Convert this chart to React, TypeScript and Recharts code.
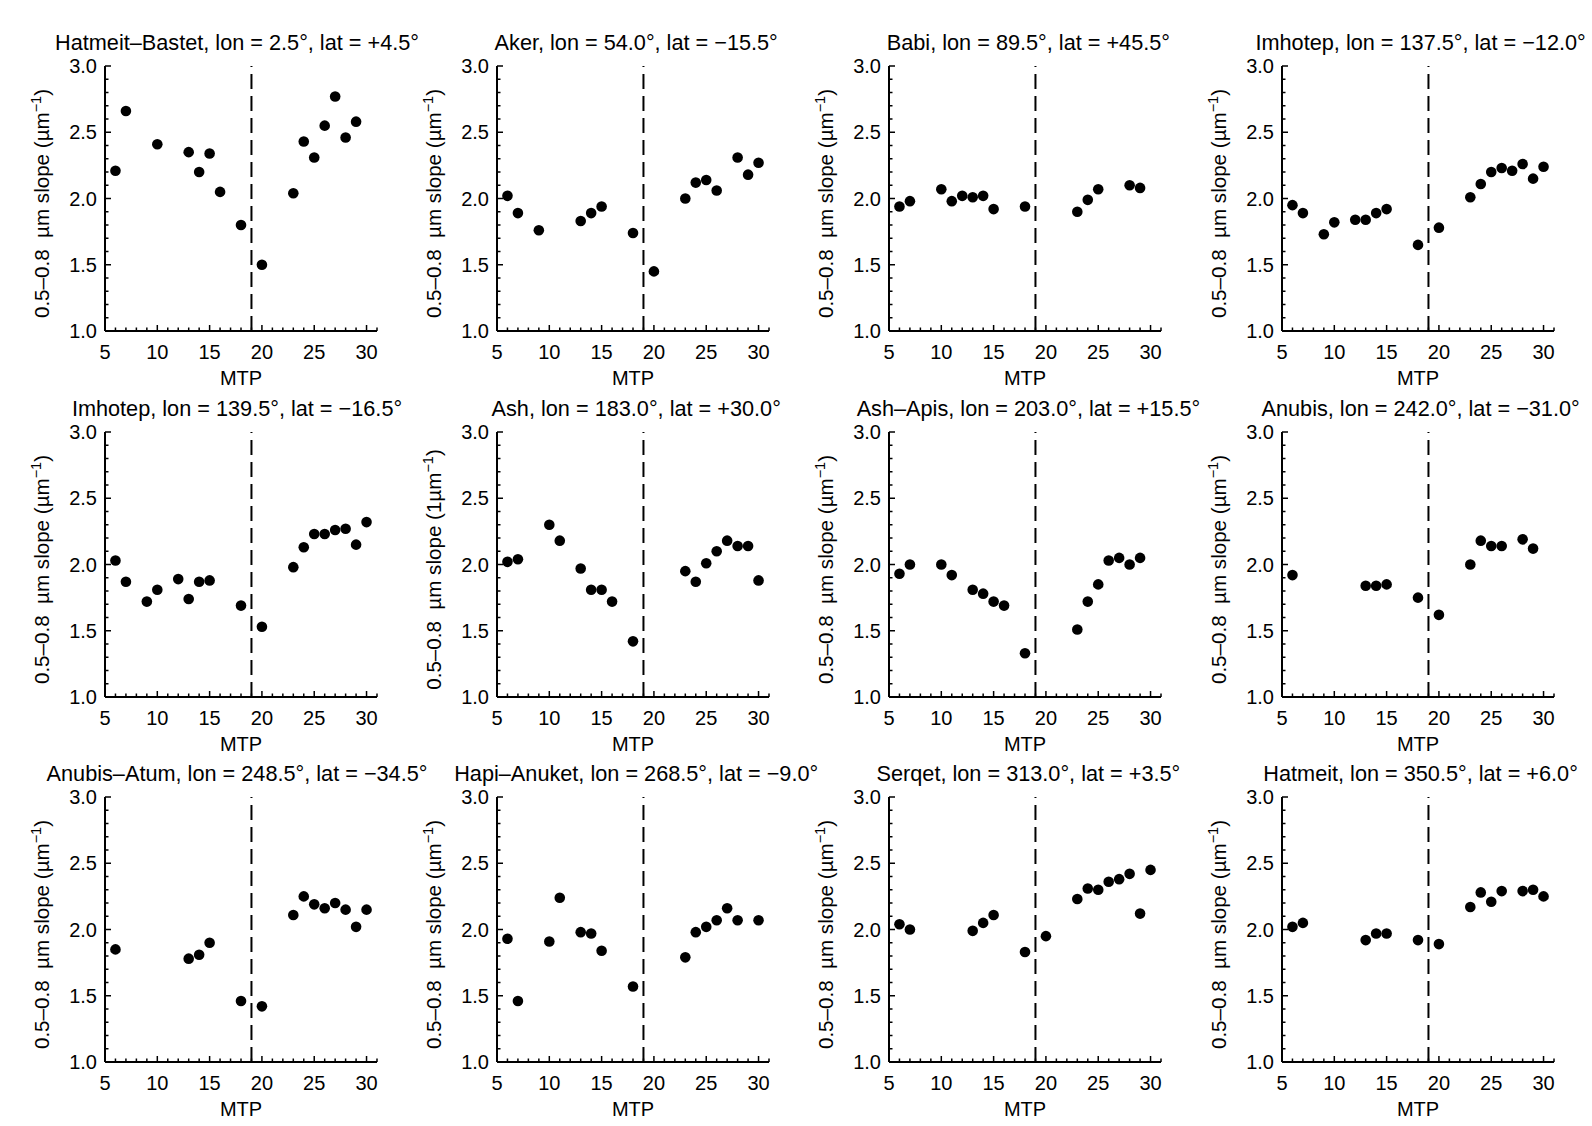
import React from 'react';
import { ScatterChart, Scatter, XAxis, YAxis, ReferenceLine } from 'recharts';

// ---------- data ----------
const HATMEIT_BASTET_MTP = [6, 7, 10, 13, 14, 15, 16, 18, 20, 23, 24, 25, 26, 27, 28, 29];
const HATMEIT_BASTET_SLOPE = [2.21, 2.66, 2.41, 2.35, 2.2, 2.34, 2.05, 1.8, 1.5, 2.04, 2.43, 2.31, 2.55, 2.77, 2.46, 2.58];

const AKER_MTP = [6, 7, 9, 13, 14, 15, 18, 20, 23, 24, 25, 26, 28, 29, 30];
const AKER_SLOPE = [2.02, 1.89, 1.76, 1.83, 1.89, 1.94, 1.74, 1.45, 2.0, 2.12, 2.14, 2.06, 2.31, 2.18, 2.27];

const BABI_MTP = [6, 7, 10, 11, 12, 13, 14, 15, 18, 23, 24, 25, 28, 29];
const BABI_SLOPE = [1.94, 1.98, 2.07, 1.98, 2.02, 2.01, 2.02, 1.92, 1.94, 1.9, 1.99, 2.07, 2.1, 2.08];

const IMHOTEP_A_MTP = [6, 7, 9, 10, 12, 13, 14, 15, 18, 20, 23, 24, 25, 26, 27, 28, 29, 30];
const IMHOTEP_A_SLOPE = [1.95, 1.89, 1.73, 1.82, 1.84, 1.84, 1.89, 1.92, 1.65, 1.78, 2.01, 2.11, 2.2, 2.23, 2.21, 2.26, 2.15, 2.24];

const IMHOTEP_B_MTP = [6, 7, 9, 10, 12, 13, 14, 15, 18, 20, 23, 24, 25, 26, 27, 28, 29, 30];
const IMHOTEP_B_SLOPE = [2.03, 1.87, 1.72, 1.81, 1.89, 1.74, 1.87, 1.88, 1.69, 1.53, 1.98, 2.13, 2.23, 2.23, 2.26, 2.27, 2.15, 2.32];

const ASH_MTP = [6, 7, 10, 11, 13, 14, 15, 16, 18, 23, 24, 25, 26, 27, 28, 29, 30];
const ASH_SLOPE = [2.02, 2.04, 2.3, 2.18, 1.97, 1.81, 1.81, 1.72, 1.42, 1.95, 1.87, 2.01, 2.1, 2.18, 2.14, 2.14, 1.88];

const ASH_APIS_MTP = [6, 7, 10, 11, 13, 14, 15, 16, 18, 23, 24, 25, 26, 27, 28, 29];
const ASH_APIS_SLOPE = [1.93, 2.0, 2.0, 1.92, 1.81, 1.78, 1.72, 1.69, 1.33, 1.51, 1.72, 1.85, 2.03, 2.05, 2.0, 2.05];

const ANUBIS_MTP = [6, 13, 14, 15, 18, 20, 23, 24, 25, 26, 28, 29];
const ANUBIS_SLOPE = [1.92, 1.84, 1.84, 1.85, 1.75, 1.62, 2.0, 2.18, 2.14, 2.14, 2.19, 2.12];

const ANUBIS_ATUM_MTP = [6, 13, 14, 15, 18, 20, 23, 24, 25, 26, 27, 28, 29, 30];
const ANUBIS_ATUM_SLOPE = [1.85, 1.78, 1.81, 1.9, 1.46, 1.42, 2.11, 2.25, 2.19, 2.16, 2.2, 2.15, 2.02, 2.15];

const HAPI_ANUKET_MTP = [6, 7, 10, 11, 13, 14, 15, 18, 23, 24, 25, 26, 27, 28, 30];
const HAPI_ANUKET_SLOPE = [1.93, 1.46, 1.91, 2.24, 1.98, 1.97, 1.84, 1.57, 1.79, 1.98, 2.02, 2.07, 2.16, 2.07, 2.07];

const SERQET_MTP = [6, 7, 13, 14, 15, 18, 20, 23, 24, 25, 26, 27, 28, 29, 30];
const SERQET_SLOPE = [2.04, 2.0, 1.99, 2.05, 2.11, 1.83, 1.95, 2.23, 2.31, 2.3, 2.36, 2.38, 2.42, 2.12, 2.45];

const HATMEIT_MTP = [6, 7, 13, 14, 15, 18, 20, 23, 24, 25, 26, 28, 29, 30];
const HATMEIT_SLOPE = [2.02, 2.05, 1.92, 1.97, 1.97, 1.92, 1.89, 2.17, 2.28, 2.21, 2.29, 2.29, 2.3, 2.25];

const TITLES = [
  'Hatmeit\u2013Bastet, lon = 2.5°, lat = +4.5°',
  'Aker, lon = 54.0°, lat = \u221215.5°',
  'Babi, lon = 89.5°, lat = +45.5°',
  'Imhotep, lon = 137.5°, lat = \u221212.0°',
  'Imhotep, lon = 139.5°, lat = \u221216.5°',
  'Ash, lon = 183.0°, lat = +30.0°',
  'Ash\u2013Apis, lon = 203.0°, lat = +15.5°',
  'Anubis, lon = 242.0°, lat = \u221231.0°',
  'Anubis\u2013Atum, lon = 248.5°, lat = \u221234.5°',
  'Hapi\u2013Anuket, lon = 268.5°, lat = \u22129.0°',
  'Serqet, lon = 313.0°, lat = +3.5°',
  'Hatmeit, lon = 350.5°, lat = +6.0°',
];

const X_TICKS = [5, 6, 7, 8, 9, 10, 11, 12, 13, 14, 15, 16, 17, 18, 19, 20, 21, 22, 23, 24, 25, 26, 27, 28, 29, 30, 31];
const X_LABELS = [5, 10, 15, 20, 25, 30];
const Y_TICKS = [1.0, 1.1, 1.2, 1.3, 1.4, 1.5, 1.6, 1.7, 1.8, 1.9, 2.0, 2.1, 2.2, 2.3, 2.4, 2.5, 2.6, 2.7, 2.8, 2.9, 3.0];
const Y_LABELS = [1.0, 1.5, 2.0, 2.5, 3.0];
const DIVIDE_MTP = 19;

const Y_UNIT_PREFIX = ['(', '(', '(', '(', '(', '(1', '(', '(', '(', '(', '(', '('];

const SERIES = [
  [HATMEIT_BASTET_MTP, HATMEIT_BASTET_SLOPE],
  [AKER_MTP, AKER_SLOPE],
  [BABI_MTP, BABI_SLOPE],
  [IMHOTEP_A_MTP, IMHOTEP_A_SLOPE],
  [IMHOTEP_B_MTP, IMHOTEP_B_SLOPE],
  [ASH_MTP, ASH_SLOPE],
  [ASH_APIS_MTP, ASH_APIS_SLOPE],
  [ANUBIS_MTP, ANUBIS_SLOPE],
  [ANUBIS_ATUM_MTP, ANUBIS_ATUM_SLOPE],
  [HAPI_ANUKET_MTP, HAPI_ANUKET_SLOPE],
  [SERQET_MTP, SERQET_SLOPE],
  [HATMEIT_MTP, HATMEIT_SLOPE],
];

// ---------- layout ----------
const FONT = "'Liberation Sans', Arial, Helvetica, sans-serif";
const COL_X = [105, 497.2, 889.4, 1281.6]; // plot-area left edges
const ROW_Y = [66, 431.8, 797.3]; // plot-area top edges
const TITLE_SHIFT = [-7, 0, 0, 0];
const PLOT_W = 272;
const PLOT_H = 265;
const Y_AXIS_W = 100;
const M_TOP = 32;
const X_AXIS_H = 64;
const M_RIGHT = 48;
const CHART_W = Y_AXIS_W + PLOT_W + M_RIGHT;
const CHART_H = M_TOP + PLOT_H + X_AXIS_H;

const isMajorY = (v: number) => Y_LABELS.some((m) => Math.abs(m - v) < 1e-6);

const YTick = (props: any) => {
  const { x, y, payload } = props;
  const v = payload.value as number;
  const major = isMajorY(v);
  return (
    <g>
      <line x1={x} x2={x + (major ? 6 : 3.5)} y1={y} y2={y} stroke="#000" strokeWidth={1.5} />
      {major && (
        <text x={x - 8} y={y} dy="0.36em" textAnchor="end" fontSize={20} fontFamily={FONT} fill="#000">
          {v.toFixed(1)}
        </text>
      )}
    </g>
  );
};

const XTick = (props: any) => {
  const { x, y, payload } = props;
  const v = payload.value as number;
  const major = X_LABELS.includes(v);
  return (
    <g>
      <line x1={x} x2={x} y1={y} y2={y - (major ? 6 : 3.5)} stroke="#000" strokeWidth={1.5} />
      {major && (
        <text x={x} y={y + 28} textAnchor="middle" fontSize={20} fontFamily={FONT} fill="#000">
          {v}
        </text>
      )}
    </g>
  );
};

const makeYLabel = (prefix: string) => (props: any) => {
  const vb = props.viewBox || { x: 0, y: M_TOP, width: Y_AXIS_W, height: PLOT_H };
  const cx = vb.x + vb.width - 56;
  const cy = vb.y + vb.height / 2 + 5;
  return (
    <text
      x={cx}
      y={cy}
      transform={`rotate(-90, ${cx}, ${cy})`}
      textAnchor="middle"
      fontSize={20.6}
      fontFamily={FONT}
      fill="#000"
      style={{ whiteSpace: 'pre' }}
    >
      {'0.5\u20130.8\u00a0 \u00b5m slope ' + prefix + '\u00b5m'}
      <tspan dy={-8} fontSize={14.5}>{'\u22121'}</tspan>
      <tspan dy={8}>)</tspan>
    </text>
  );
};

const XLabel = (props: any) => {
  const vb = props.viewBox || { x: Y_AXIS_W, y: M_TOP + PLOT_H, width: PLOT_W, height: X_AXIS_H };
  return (
    <text x={vb.x + vb.width / 2} y={vb.y + 54} textAnchor="middle" fontSize={20} fontFamily={FONT} fill="#000">
      MTP
    </text>
  );
};

const Dot = (props: any) => <circle cx={props.cx} cy={props.cy} r={5.3} fill="#000" />;

const Panel = ({ index }: { index: number }) => {
  const col = index % 4;
  const row = Math.floor(index / 4);
  const plotLeft = COL_X[col];
  const plotTop = ROW_Y[row];
  const [mtp, slope] = SERIES[index];
  const data = mtp.map((m, i) => ({ mtp: m, slope: slope[i] }));
  return (
    <>
      <div
        style={{
          position: 'absolute',
          left: plotLeft + PLOT_W / 2 + 3 + TITLE_SHIFT[col] - 250,
          top: plotTop - 23 - 12,
          width: 500,
          lineHeight: '24px',
          textAlign: 'center',
          fontSize: 21.7,
          fontFamily: FONT,
          color: '#000',
          whiteSpace: 'nowrap',
        }}
      >
        {TITLES[index]}
      </div>
      <div style={{ position: 'absolute', left: plotLeft - Y_AXIS_W, top: plotTop - M_TOP }}>
        <ScatterChart width={CHART_W} height={CHART_H} margin={{ top: M_TOP, right: M_RIGHT, bottom: 0, left: 0 }}>
          <XAxis
            type="number"
            dataKey="mtp"
            domain={[5, 31]}
            ticks={X_TICKS}
            interval={0}
            tickSize={0}
            tickMargin={0}
            tickLine={false}
            height={X_AXIS_H}
            axisLine={{ stroke: '#000', strokeWidth: 2 }}
            tick={<XTick />}
            label={{ content: XLabel }}
            allowDataOverflow
          />
          <YAxis
            type="number"
            dataKey="slope"
            domain={[1, 3]}
            ticks={Y_TICKS}
            interval={0}
            tickSize={0}
            tickMargin={0}
            tickLine={false}
            width={Y_AXIS_W}
            axisLine={{ stroke: '#000', strokeWidth: 2 }}
            tick={<YTick />}
            label={{ content: makeYLabel(Y_UNIT_PREFIX[index]) }}
            allowDataOverflow
          />
          <ReferenceLine x={DIVIDE_MTP} stroke="#000" strokeWidth={2} strokeDasharray="15 7" />
          <Scatter data={data} fill="#000" shape={<Dot />} isAnimationActive={false} />
        </ScatterChart>
      </div>
    </>
  );
};

export default function App() {
  return (
    <div style={{ position: 'absolute', left: 0, top: 0, width: 1592, height: 1126, background: '#fff', overflow: 'hidden' }}>
      {TITLES.map((_, i) => (
        <Panel key={i} index={i} />
      ))}
    </div>
  );
}
